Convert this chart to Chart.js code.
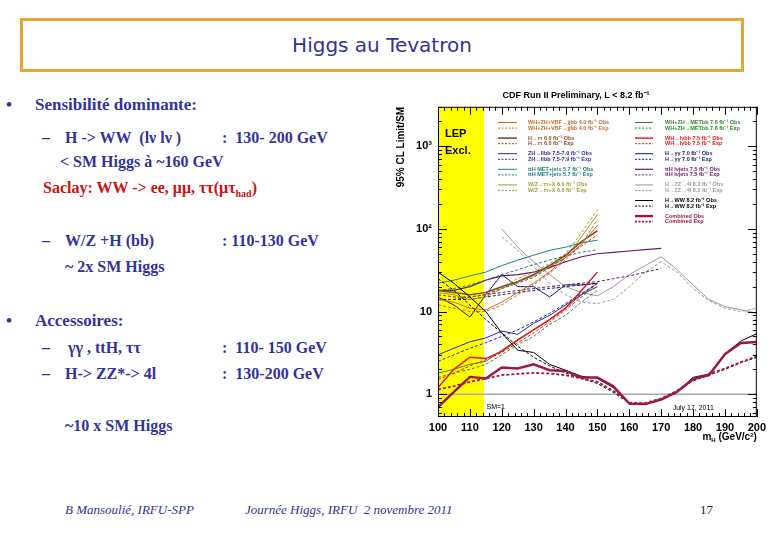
<!DOCTYPE html>
<html><head><meta charset="utf-8">
<script src="https://cdn.jsdelivr.net/npm/chart.js@4.4.1/dist/chart.umd.min.js"></script>
<style>
body{margin:0;width:780px;height:540px;background:#fff;position:relative;overflow:hidden;font-family:"Liberation Serif","Times New Roman",serif;}
.t{position:absolute;white-space:pre;font-weight:bold;color:#333399;font-size:16px;line-height:20px;}
.b{font-size:17px;}
.red{color:#cc1111;}
.box{position:absolute;left:20px;top:18px;width:724px;height:54px;box-sizing:border-box;border:3px solid #e9a531;}
.ttl{position:absolute;left:20px;top:18px;width:724px;height:54px;line-height:54px;text-align:center;font-family:"DejaVu Sans",sans-serif;font-size:20px;color:#333399;}
.f{position:absolute;white-space:pre;font-style:italic;font-size:13px;color:#333399;line-height:16px;}
#wrap{position:absolute;left:395px;top:80px;width:375px;height:370px;}
sub{font-size:10px;}
</style></head>
<body>
<div class="box"></div>
<div class="ttl">Higgs au Tevatron</div>

<div class="t b" style="left:6px;top:95px">•</div>
<div class="t b" style="left:35px;top:95px">Sensibilité dominante:</div>
<div class="t" style="left:42px;top:128px">–</div>
<div class="t" style="left:65px;top:128px">H -&gt; WW  (lν lν )</div>
<div class="t" style="left:222px;top:128px">:  130- 200 GeV</div>
<div class="t" style="left:60px;top:152px">&lt; SM Higgs à ~160 GeV</div>
<div class="t red" style="left:43px;top:178px">Saclay: WW -&gt; ee, μμ, ττ(μτ<sub>had</sub>)</div>
<div class="t" style="left:42px;top:231px">–</div>
<div class="t" style="left:65px;top:231px">W/Z +H (bb)</div>
<div class="t" style="left:222px;top:231px">: 110-130 GeV</div>
<div class="t" style="left:65px;top:257px">~ 2x SM Higgs</div>
<div class="t b" style="left:6px;top:311px">•</div>
<div class="t b" style="left:35px;top:311px">Accessoires:</div>
<div class="t" style="left:42px;top:338px">–</div>
<div class="t" style="left:68px;top:338px">γγ , ttH, ττ</div>
<div class="t" style="left:222px;top:338px">:  110- 150 GeV</div>
<div class="t" style="left:42px;top:364px">–</div>
<div class="t" style="left:65px;top:364px">H-&gt; ZZ*-&gt; 4l</div>
<div class="t" style="left:222px;top:364px">:  130-200 GeV</div>
<div class="t" style="left:65px;top:416px">~10 x SM Higgs</div>

<div class="f" style="left:65px;top:502px">B Mansoulié, IRFU-SPP</div>
<div class="f" style="left:245px;top:502px">Journée Higgs, IRFU  2 novembre 2011</div>
<div class="f" style="left:700px;top:502px;font-style:normal;color:#222">17</div>

<div id="wrap"><canvas id="c" width="375" height="370"></canvas></div>

<script>
// ---- data ----
const masses = [100,105,110,115,120,125,130,135,140,145,150,155,160,165,170,175,180,185,190,195,200];
const lepLimit = 114.4;
const smLevel = 1;
const combObs  = [0.70,1.07,1.62,1.55,2.10,2.05,2.30,1.95,1.91,1.59,1.59,1.25,0.77,0.76,0.86,1.07,1.53,1.70,3.05,4.17,4.28];
const combExp  = [1.14,1.25,1.41,1.55,1.70,1.76,1.81,1.78,1.70,1.55,1.41,1.10,0.79,0.78,0.89,1.10,1.48,1.75,2.05,2.45,2.88];
const wwObs    = [30,22,15,10,5.5,3.4,3.2,2.3,1.95,1.65,1.55,1.2,0.76,0.75,0.87,1.05,1.6,1.75,3.1,4.4,5.4];
const wwExp    = [25,18,12,8,5.5,3.8,2.8,2.2,1.8,1.55,1.35,1.05,0.78,0.77,0.88,1.08,1.45,1.7,2.0,2.4,2.8];
const zzObs    = [null,null,null,null,100,60,40,28,20,17,15.5,20,28,36,46,32,21,14,11.5,10.5,9.5];
const zzExp    = [null,null,null,null,80,55,35,22,16,13,12.5,14,20,30,40,30,19,13.5,11,10,11];
const whObs    = [1.2,2.0,2.8,2.7,3.3,4.5,6.0,8.0,11,18,30];
const whExp    = [1.5,1.8,2.2,2.6,3.2,4.2,5.5,7.5,10.5,15,22];
const metObs   = [1.8,2.0,2.3,2.5,3.4,4.6,6.0,8.0,11,16,22];
const metExp   = [1.6,1.8,2.0,2.3,3.0,4.0,5.0,7.0,9.0,13,18];
const zhObs    = [3.0,3.6,4.3,4.8,5.8,5.3,7.2,9.0,12,16,20];
const zhExp    = [2.5,3.0,3.6,4.2,5.0,6.0,7.5,9.5,12.5,16.5,22];
const ggObs    = [15,12,8.6,16,28,20,20,15,21,21,22];
const ggExp    = [14,14,14,15,16,17,18,19,20,21,22];
const tthLvObs = [18,18,20,24,27,28,30,34,40,46,50,52,54,56,58];
const tthLvExp = [14,14,15,16,17,18,19,20,21,22,23,25,27,30,33];
const tthMetObs= [22,24,27,30,36,42,48,55,60,68,73];
const tthMetExp= [18,19,21,24,28,32,37,42,47,52,56];
const tautauObs= [18,17,16,17,20,23,28,36,48,70,95];
const tautauExp= [16,15,15,16,19,22,26,34,45,62,85];
const jjbbObs  = [14,13,11,10.5,13,17,22,30,45,65,110];
const jjbbExp  = [12,11,10,10,12,16,21,29,42,65,130];
const wzObs    = [17,16,14,15,19,23,27,35,45,80,150];
const wzExp    = [16,15,15,16,20,25,30,38,50,90,170];
const yTickLabels = {1:'1',10:'10',100:'10²',1000:'10³'};
const xTickLabels = ['100','110','120','130','140','150','160','170','180','190','200'];

// ---- build datasets ----
function pts(vals){const o=[];vals.forEach((v,i)=>{if(v!==null&&v!==undefined)o.push({x:masses[i],y:v});});return o;}
function ds(label,vals,color,w,dash,order){
  return {label,data:pts(vals),borderColor:color,backgroundColor:color,borderWidth:w,borderDash:dash?[3,2]:[],pointRadius:0,tension:0,fill:false,order};
}
const C={jj:'#c86a28',tt:'#8b4a2b',zh:'#2c2ca0',tm:'#1f8080',wz:'#9c9c30',met:'#2e8a2e',wh:'#ee1111',gg:'#1a1a70',tl:'#6a1a6a',zz:'#9a9a9a',ww:'#000000',cb:'#a0173f'};
const datasets=[
  ds('WH+ZH+VBF→jjbb 4.0 fb⁻¹ Obs',jjbbObs,C.jj,1,false,5),
  ds('WH+ZH+VBF→jjbb 4.0 fb⁻¹ Exp',jjbbExp,C.jj,1,true,5),
  ds('H→ττ 6.0 fb⁻¹ Obs',tautauObs,C.tt,1.6,false,5),
  ds('H→ττ 6.0 fb⁻¹ Exp',tautauExp,C.tt,1,true,5),
  ds('ZH→llbb 7.5-7.9 fb⁻¹ Obs',zhObs,C.zh,1,false,5),
  ds('ZH→llbb 7.5-7.9 fb⁻¹ Exp',zhExp,C.zh,1,true,5),
  ds('ttH MET+jets 5.7 fb⁻¹ Obs',tthMetObs,C.tm,1,false,5),
  ds('ttH MET+jets 5.7 fb⁻¹ Exp',tthMetExp,C.tm,1,true,5),
  ds('W/Z→ττ+X 6.0 fb⁻¹ Obs',wzObs,C.wz,1,false,5),
  ds('W/Z→ττ+X 6.0 fb⁻¹ Exp',wzExp,C.wz,1,true,5),
  ds('WH+ZH→METbb 7.8 fb⁻¹ Obs',metObs,C.met,1,false,5),
  ds('WH+ZH→METbb 7.8 fb⁻¹ Exp',metExp,C.met,1,true,5),
  ds('WH→lνbb 7.5 fb⁻¹ Obs',whObs,C.wh,1.4,false,4),
  ds('WH→lνbb 7.5 fb⁻¹ Exp',whExp,C.wh,1,true,4),
  ds('H→γγ 7.0 fb⁻¹ Obs',ggObs,C.gg,1,false,5),
  ds('H→γγ 7.0 fb⁻¹ Exp',ggExp,C.gg,1,true,5),
  ds('ttH lνjets 7.5 fb⁻¹ Obs',tthLvObs,C.tl,1.2,false,5),
  ds('ttH lνjets 7.5 fb⁻¹ Exp',tthLvExp,C.tl,1,true,5),
  ds('H→ZZ→4l 8.2 fb⁻¹ Obs',zzObs,C.zz,1,false,5),
  ds('H→ZZ→4l 8.2 fb⁻¹ Exp',zzExp,C.zz,1,true,5),
  ds('H→WW 8.2 fb⁻¹ Obs',wwObs,C.ww,1,false,2),
  ds('H→WW 8.2 fb⁻¹ Exp',wwExp,C.ww,1,true,2),
  ds('Combined Obs',combObs,C.cb,2.4,false,0),
  ds('Combined Exp',combExp,C.cb,1.8,true,1)
];
const legendCols=[[0,1,2,3,4,5,6,7,8,9],[10,11,12,13,14,15,16,17,18,19,20,21,22,23]];

const decor={
  id:'decor',
  beforeDatasetsDraw(chart){
    const {ctx,chartArea:a,scales:{x,y}}=chart;
    ctx.save();
    ctx.fillStyle='#ffff00';
    const x0=x.getPixelForValue(100),x1=x.getPixelForValue(lepLimit);
    ctx.fillRect(x0,a.top,x1-x0,a.bottom-a.top);
    ctx.strokeStyle='#aaaaaa';ctx.lineWidth=1.5;
    const ys=y.getPixelForValue(smLevel);
    ctx.beginPath();ctx.moveTo(a.left,ys);ctx.lineTo(a.right,ys);ctx.stroke();
    ctx.fillStyle='#000';ctx.font='bold 11px "Liberation Sans",Arial';ctx.textBaseline='middle';ctx.textAlign='left';
    ctx.fillText('LEP',a.left+7,a.top+27);
    ctx.fillText('Excl.',a.left+7,a.top+44);
    ctx.restore();
  },
  afterDatasetsDraw(chart){
    const {ctx,chartArea:a,scales:{x,y}}=chart;
    ctx.save();
    ctx.strokeStyle='#000';ctx.lineWidth=1;
    ctx.strokeRect(a.left+0.5,a.top+0.5,a.right-a.left-1,a.bottom-a.top-1);
    for(let m=100;m<=200;m+=2){
      const px=Math.round(x.getPixelForValue(m))+0.5;const L=(m%10===0)?8:4;
      ctx.beginPath();ctx.moveTo(px,a.bottom);ctx.lineTo(px,a.bottom-L);ctx.moveTo(px,a.top);ctx.lineTo(px,a.top+L);ctx.stroke();
    }
    for(let e=-1;e<=3;e++){for(let k=1;k<=9;k++){
      const v=k*Math.pow(10,e);if(v<y.min||v>y.max)continue;
      const py=Math.round(y.getPixelForValue(v))+0.5;const L=(k===1)?9:4;
      ctx.beginPath();ctx.moveTo(a.left,py);ctx.lineTo(a.left+L,py);ctx.moveTo(a.right,py);ctx.lineTo(a.right-L,py);ctx.stroke();
    }}
    ctx.font='bold 5.5px "Liberation Sans",Arial';ctx.textBaseline='middle';ctx.textAlign='left';
    const colX=[[60,79,90],[197,215,227]];
    legendCols.forEach((col,ci)=>{
      col.forEach((di,ri)=>{
        const d=chart.data.datasets[di];
        const yy=a.top+15.7+Math.floor(ri/2)*15.6+(ri%2)*5.6;
        ctx.strokeStyle=d.borderColor;ctx.lineWidth=Math.max(1,d.borderWidth);
        ctx.setLineDash(d.borderDash.length?[2,1.5]:[]);
        ctx.beginPath();ctx.moveTo(a.left+colX[ci][0],yy);ctx.lineTo(a.left+colX[ci][1],yy);ctx.stroke();
        ctx.setLineDash([]);
        ctx.fillStyle=d.borderColor;
        ctx.fillText(d.label,a.left+colX[ci][2],yy);
      });
    });
    ctx.fillStyle='#000';ctx.font='7px "Liberation Sans",Arial';
    ctx.fillText('SM=1',x.getPixelForValue(115.2),a.bottom-10);
    ctx.fillText('July 17, 2011',x.getPixelForValue(173.6),a.bottom-9);
    ctx.font='bold 10px "Liberation Sans",Arial';ctx.textAlign='left';ctx.textBaseline='alphabetic';
    const by=a.bottom+23;
    const t2=' (GeV/c²)';
    const w2=ctx.measureText(t2).width;
    ctx.font='bold 6px "Liberation Sans",Arial';const wH=ctx.measureText('H').width;
    ctx.font='bold 10px "Liberation Sans",Arial';const wm=ctx.measureText('m').width;
    let sx=a.right-w2-wH-wm;
    ctx.fillText('m',sx,by);
    ctx.font='bold 6px "Liberation Sans",Arial';ctx.fillText('H',sx+wm,by+2);
    ctx.font='bold 10px "Liberation Sans",Arial';ctx.fillText(t2,sx+wm+wH,by);
    ctx.restore();
  }
};

new Chart(document.getElementById('c'),{
  type:'line',
  data:{datasets},
  options:{
    responsive:false,animation:false,devicePixelRatio:1,
    layout:{padding:{left:0,right:13,top:0,bottom:0}},
    plugins:{
      legend:{display:false},tooltip:{enabled:false},
      title:{display:true,text:'CDF Run II Preliminary, L < 8.2 fb⁻¹',color:'#000',font:{family:'"Liberation Sans",Arial',size:9,weight:'bold'},padding:{top:10,bottom:6}}
    },
    scales:{
      x:{type:'linear',min:100,max:200,
        afterFit(s){s.height=33;},
        grid:{display:false,drawTicks:false},border:{display:false},
        ticks:{stepSize:10,autoSkip:false,maxRotation:0,padding:4,color:'#000',font:{family:'"Liberation Sans",Arial',size:11,weight:'bold'},
          callback:(v)=>{const i=xTickLabels.indexOf(String(v));return i>=0?xTickLabels[i]:'';}}
      },
      y:{type:'logarithmic',min:0.53,max:3000,
        afterFit(s){s.width=43;},
        grid:{display:false,drawTicks:false},border:{display:false},
        title:{display:true,text:'95% CL Limit/SM',align:'end',color:'#000',font:{family:'"Liberation Sans",Arial',size:10,weight:'bold'},padding:{top:0,bottom:0}},
        ticks:{autoSkip:false,padding:6,color:'#000',font:{family:'"Liberation Sans",Arial',size:11,weight:'bold'},
          callback:(v)=>yTickLabels[v]!==undefined?yTickLabels[v]:''}
      }
    }
  },
  plugins:[decor]
});
</script>
</body></html>
